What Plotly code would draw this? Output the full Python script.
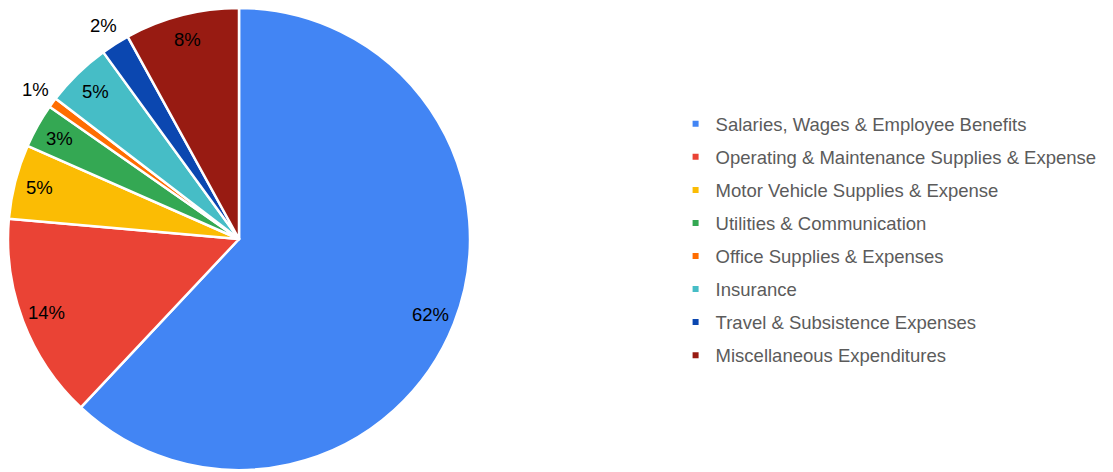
import math
import plotly.graph_objects as go

categories = [
    "Salaries, Wages & Employee Benefits",
    "Operating & Maintenance Supplies & Expense",
    "Motor Vehicle Supplies & Expense",
    "Utilities & Communication",
    "Office Supplies & Expenses",
    "Insurance",
    "Travel & Subsistence Expenses",
    "Miscellaneous Expenditures",
]
shares = [62.0, 14.4, 5.2, 3.1, 0.7, 4.6, 2.0, 8.0]
label_outside = [False, False, False, False, True, False, True, False]
colors = ["#4285F4", "#EA4335", "#FBBC04", "#34A853", "#FF6D01", "#46BDC6", "#0B47B0", "#981B12"]

W, H = 1113, 472
FONT = "Liberation Sans, Arial, sans-serif"

# pie geometry in pixels
CX, CY, R = 239, 239, 231
INSIDE_FRAC, OUTSIDE_FRAC = 0.89, 1.093

fig = go.Figure()
fig.add_trace(go.Pie(
    labels=categories,
    values=shares,
    sort=False,
    direction="clockwise",
    rotation=0,
    marker=dict(colors=colors, line=dict(color="white", width=2.5)),
    textinfo="none",
    showlegend=False,
    hoverinfo="label+percent",
    domain=dict(x=[(CX - R) / W, (CX + R) / W], y=[(H - CY - R) / H, (H - CY + R) / H]),
))

# percentage labels placed along each slice's bisector
total = sum(shares)
cum = 0.0
for v, outside in zip(shares, label_outside):
    mid = (cum + v / 2) / total * 2 * math.pi  # clockwise from 12 o'clock
    cum += v
    r = R * (OUTSIDE_FRAC if outside else INSIDE_FRAC)
    px = CX + r * math.sin(mid)
    py = CY - r * math.cos(mid)
    fig.add_annotation(
        x=px / W, y=1 - py / H, xref="paper", yref="paper",
        text=f"{round(v / total * 100)}%", showarrow=False,
        xanchor="center", yanchor="middle",
        font=dict(family=FONT, size=18.5, color="black"),
    )

# legend entries, one group each so the rows can be spaced apart
for name, c in zip(categories, colors):
    fig.add_trace(go.Scatter(
        x=[None], y=[None], mode="markers", name=name, legendgroup=name,
        marker=dict(symbol="square", size=6, color=c),
    ))

fig.update_layout(
    width=W, height=H,
    margin=dict(l=0, r=0, t=0, b=0),
    paper_bgcolor="white", plot_bgcolor="white",
    xaxis=dict(visible=False), yaxis=dict(visible=False),
    legend=dict(
        x=0.607, y=0.492, xanchor="left", yanchor="middle",
        font=dict(family=FONT, size=18.5, color="#5b5b5b"),
        tracegroupgap=6, itemwidth=30,
        bgcolor="rgba(0,0,0,0)",
    ),
    font=dict(family=FONT),
)

fig.write_html("out.html")
